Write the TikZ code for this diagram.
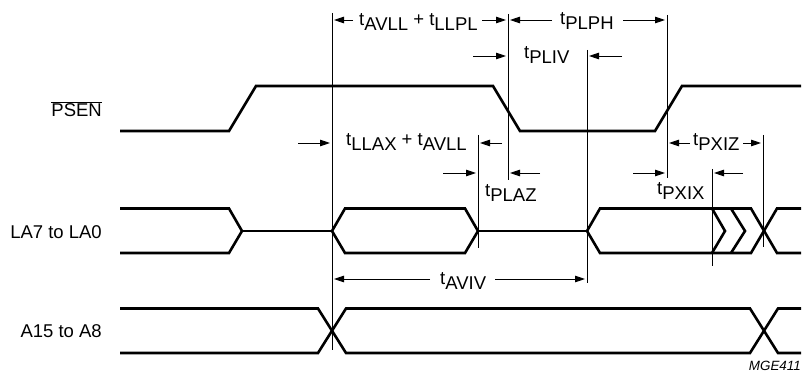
\documentclass[tikz,border=0pt]{standalone}
\usepackage{fontspec}
\setmainfont{Liberation Sans}
\usetikzlibrary{arrows.meta}
\newcommand{\tsub}[1]{t\raisebox{-5.5pt}{#1}}
\tikzset{
  sig/.style={line width=2.6pt, line join=miter, black},
  guide/.style={line width=0.9pt, black},
  dim/.style={line width=0.9pt, black, -{Triangle[length=10pt,width=6.5pt]}},
  lbl/.style={inner sep=0pt, anchor=base west, font=\fontsize{18.5}{22}\selectfont},
  signame/.style={inner sep=0pt, anchor=base east, font=\fontsize{18.5}{22}\selectfont},
}
\begin{document}
\begin{tikzpicture}[x=1pt,y=-1pt]
\useasboundingbox (0,0) rectangle (804,379);
% signal names
\node[signame] (psen) at (102,117) {$\overline{\mbox{PSEN}}$};
\node[signame] (la) at (102,239) {LA7 to LA0};
\node[signame] (ah) at (102,338) {A15 to A8};
\node[inner sep=0pt, anchor=base east, font=\fontsize{13.4}{16}\selectfont\itshape] (mge) at (801,371) {MGE411};
% PSEN
\draw[sig] (120,131) -- (229,131) -- (256,86) -- (493,86) -- (520,131) -- (655,131) -- (682,86) -- (801,86);
% LA7 to LA0
\draw[sig] (120,208.5) -- (229,208.5) -- (242,231) -- (229,253) -- (120,253);
\draw[sig] (242,231) -- (332,231);
\draw[sig] (332,231) -- (345,208.5) -- (465,208.5) -- (478,231) -- (465,253) -- (345,253) -- cycle;
\draw[sig] (478,231) -- (587,231);
\draw[sig] (587,231) -- (600,208.5) -- (751,208.5) -- (777,253) -- (801,253);
\draw[sig] (587,231) -- (600,253) -- (751,253) -- (777,208.5) -- (801,208.5);
\draw[sig] (712,208.5) -- (725,231) -- (712,253);
\draw[sig] (731,208.5) -- (745,231) -- (731,253);
% A15 to A8
\draw[sig] (120,308.5) -- (318,308.5) -- (346,353) -- (750,353) -- (778,308.5) -- (801,308.5);
\draw[sig] (120,353) -- (318,353) -- (346,308.5) -- (750,308.5) -- (778,353) -- (801,353);
% guide lines
\draw[guide] (332,13) -- (332,350);
\draw[guide] (508,14) -- (508,180);
\draw[guide] (587,50) -- (587,283);
\draw[guide] (478,135) -- (478,248);
\draw[guide] (667,15) -- (667,178);
\draw[guide] (712,169) -- (712,266);
\draw[guide] (763,135) -- (763,247);
% timing labels
\node[lbl] (tavll) at (359,25.5) {\tsub{AVLL} + \tsub{LLPL}};
\node[lbl] (tplph) at (560,24.5) {\tsub{PLPH}};
\node[lbl] (tpliv) at (524,58.5) {\tsub{PLIV}};
\node[lbl] (tllax) at (346,145.5) {\tsub{LLAX} + \tsub{AVLL}};
\node[lbl] (tplaz) at (485,196.5) {\tsub{PLAZ}};
\node[lbl] (tpxiz) at (693,145.5) {\tsub{PXIZ}};
\node[lbl] (tpxix) at (657,194.5) {\tsub{PXIX}};
\node[lbl] (taviv) at (440,284.5) {\tsub{AVIV}};
% dimension arrows
\draw[dim] (353,20) -- (334,20);
\draw[dim] (482,20) -- (506,20);
\draw[dim] (552,20) -- (510,20);
\draw[dim] (623,20) -- (665,20);
\draw[dim] (473,56) -- (506,56);
\draw[dim] (622,56) -- (589,56);
\draw[dim] (298,143) -- (330,143);
\draw[dim] (502,143) -- (480,143);
\draw[dim] (690,143) -- (669,143);
\draw[dim] (743,143) -- (761,143);
\draw[dim] (443,173) -- (476,173);
\draw[dim] (540,173) -- (510,173);
\draw[dim] (633,173) -- (665,173);
\draw[dim] (743,173) -- (714,173);
\draw[dim] (430,279) -- (334,279);
\draw[dim] (495,279) -- (585,279);
\end{tikzpicture}
\end{document}
